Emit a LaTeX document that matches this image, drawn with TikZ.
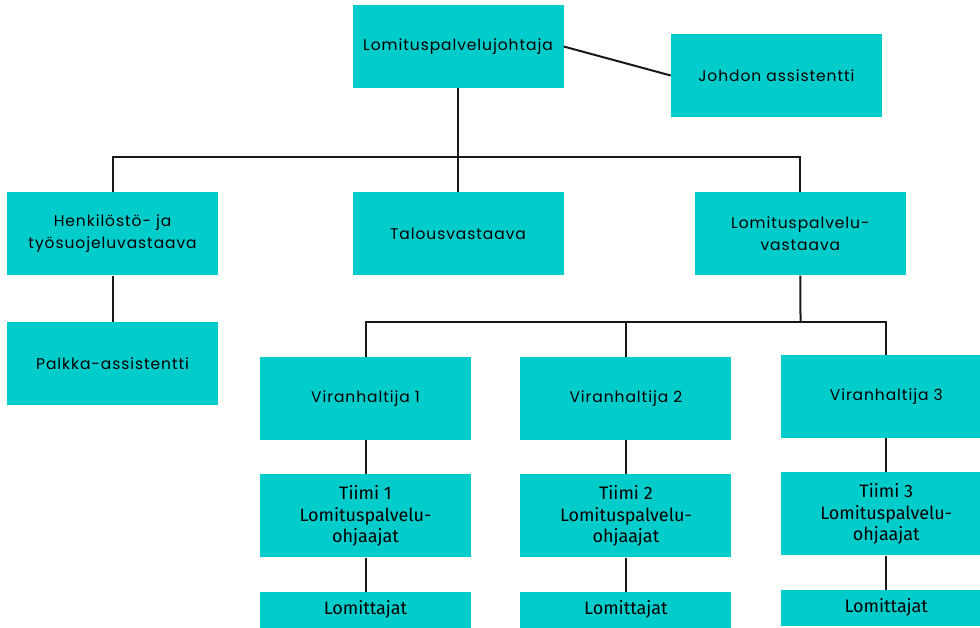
\documentclass[tikz,border=0pt]{standalone}
\usepackage{fontspec}
\setmainfont{Poppins}[LetterSpace=6]
\newfontfamily\teamfont{Fira Sans}
\usetikzlibrary{positioning}
\definecolor{orgteal}{RGB}{0,204,204}

\begin{document}
\begin{tikzpicture}[x=1pt,y=-1pt,
		  orgbox/.style={fill=orgteal,minimum width=211pt,minimum height=83pt,inner sep=0pt,align=center,text=black,font=\fontsize{15.5}{22}\selectfont},
		  teambox/.style={orgbox,font=\teamfont\fontsize{18}{21.5}\selectfont},
		  link/.style={line width=2pt,black!90}
		]
		\useasboundingbox (0,0) rectangle (980,627);
		\node[orgbox] (Johtaja) at (458,46.5) {Lomituspalvelujohtaja};
		\node[orgbox, right=107pt of Johtaja, yshift=-29pt] (Assistentti) {Johdon assistentti};
		\node[orgbox, below=104pt of Johtaja] (Talous) {Talousvastaava};
		\node[orgbox, left=134pt of Talous] (Henkilosto) {Henkilöstö- ja\\työsuojeluvastaava};
		\node[orgbox, right=131pt of Talous] (Vastaava) {Lomituspalvelu-\\vastaava};
		\node[orgbox, below=46pt of Henkilosto] (Palkka) {Palkka-assistentti};
		\node[orgbox] (Vir1) at (365.5,398.5) {Viranhaltija 1};
		\node[orgbox, right=49pt of Vir1] (Vir2) {Viranhaltija 2};
		\node[orgbox, right=49pt of Vir2, yshift=2pt] (Vir3) {Viranhaltija 3};
		\node[teambox, below=34pt of Vir1] (Tiimi1) {Tiimi 1\\Lomituspalvelu-\\ohjaajat};
		\node[teambox, below=34pt of Vir2] (Tiimi2) {Tiimi 2\\Lomituspalvelu-\\ohjaajat};
		\node[teambox, below=34pt of Vir3] (Tiimi3) {Tiimi 3\\Lomituspalvelu-\\ohjaajat};
		\node[teambox, minimum height=36pt, below=34pt of Tiimi1] (Lom1) {Lomittajat};
		\node[teambox, minimum height=36pt, below=34pt of Tiimi2] (Lom2) {Lomittajat};
		\node[teambox, minimum height=36pt, below=34pt of Tiimi3] (Lom3) {Lomittajat};
		\coordinate (TopBar) at (458,157);
		\coordinate (MidBar) at (800.5,322);
		\draw[link] (Johtaja.east) -- (Assistentti.west);
		\draw[link] (Johtaja) -- (TopBar);
		\draw[link] (Henkilosto.north) |- (TopBar) -| (Vastaava.north);
		\draw[link] (Talous) -- (TopBar);
		\draw[link] (Vastaava) -- (MidBar);
		\draw[link] (Vir1.north) |- (MidBar) -| (Vir3.north);
		\draw[link] (Vir2.north) -- (Vir2.north |- MidBar);
		\path[link] (Henkilosto) edge (Palkka)
			(Vir1) edge (Tiimi1)
			(Vir2) edge (Tiimi2)
			(Vir3) edge (Tiimi3)
			(Tiimi1) edge (Lom1)
			(Tiimi2) edge (Lom2)
			(Tiimi3) edge (Lom3);
		\end{tikzpicture}
\end{document}
